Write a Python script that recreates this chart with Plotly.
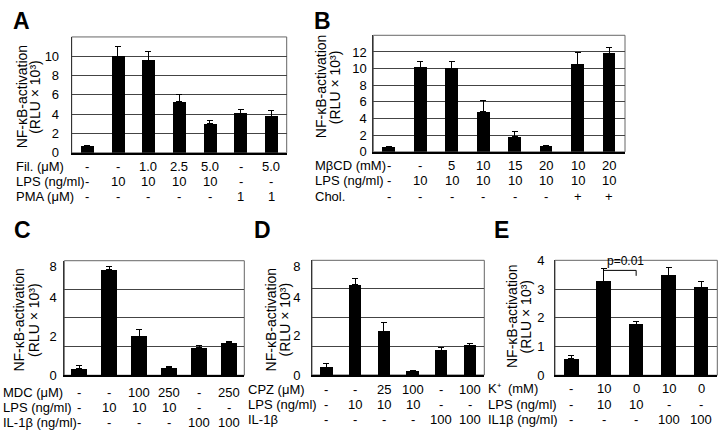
import numpy as np
import plotly.graph_objects as go

W, H = 720, 438
FONT = "Liberation Sans, Arial, sans-serif"

# ---------------- data ----------------
A_vals = [0.7, 10.0, 9.6, 5.3, 3.0, 4.1, 3.8]
A_err = [0.1, 1.0, 0.9, 0.75, 0.35, 0.35, 0.55]
A_rows = ["Fil. (\u03bcM)", "LPS (ng/ml)", "PMA (\u03bcM)"]
A_fil = ["-", "-", "1.0", "2.5", "5.0", "-", "5.0"]
A_lps = ["-", "10", "10", "10", "10", "-", "-"]
A_pma = ["-", "-", "-", "-", "-", "1", "1"]
A_ticks = [0, 2, 4, 6, 8, 10]

B_vals = [0.6, 10.15, 10.0, 4.8, 1.8, 0.7, 10.5, 11.8]
B_err = [0.1, 0.75, 0.8, 1.35, 0.65, 0.1, 1.45, 0.7]
B_rows = ["M\u03b2CD (mM)", "LPS (ng/ml)", "Chol."]
B_mbcd = ["-", "-", "5", "10", "15", "20", "10", "20"]
B_lps = ["-", "10", "10", "10", "10", "10", "10", "10"]
B_chol = ["-", "-", "-", "-", "-", "-", "+", "+"]
B_ticks = [0, 2, 4, 6, 8, 10, 12]

C_vals = [0.36, 7.65, 2.0, 0.40, 1.41, 1.65]
C_err = [0.16, 0.4, 0.34, 0.03, 0.1, 0.06]
C_rows = ["MDC (\u03bcM)", "LPS (ng/ml)", "IL-1\u03b2 (ng/ml)"]
C_mdc = ["-", "-", "100", "250", "-", "250"]
C_lps = ["-", "10", "10", "10", "-", "-"]
C_il = ["-", "-", "-", "-", "100", "100"]

D_vals = [0.38, 5.6, 2.22, 0.21, 1.25, 1.49]
D_err = [0.21, 0.84, 0.47, 0.0, 0.14, 0.14]
D_rows = ["CPZ (\u03bcM)", "LPS (ng/ml)", "IL-1\u03b2"]
D_cpz = ["-", "-", "25", "100", "-", "100"]
D_lps = ["-", "10", "10", "10", "-", "-"]
D_il = ["-", "-", "-", "-", "100", "100"]

# C and D share a non-linear value axis (labels 0, 2, 4, 8)
CD_ticks = [0, 2, 4, 8]
CD_scale_vals = [0, 2, 4, 8, 12]
CD_scale_pos = [0, 1.365, 2.71, 3.79, 4.87]

E_vals = [0.57, 3.28, 1.76, 3.48, 3.05]
E_err = [0.11, 0.44, 0.1, 0.28, 0.21]
E_rows = ["K\u207a  (mM)", "LPS (ng/ml)", "IL1\u03b2 (ng/ml)"]
E_k = ["-", "10", "0", "10", "0"]
E_lps = ["-", "10", "10", "-", "-"]
E_il = ["-", "-", "-", "100", "100"]
E_ticks = [0, 1, 2, 3, 4]
E_p_text = "p=0.01"
E_p_pair = [1, 2]
E_p_level = 3.65
E_p_drop = 3.46

Y_TITLE1 = "NF-\u03baB-activation"
Y_TITLE2 = "(RLU \u00d7 10\u00b3)"


def cd_map(v):
    return np.interp(np.asarray(v, float), CD_scale_vals, CD_scale_pos)


def px(x):
    return x / W


def py(y):
    return 1 - y / H


fig = go.Figure()
annotations = []
shapes = []

panels = [
    dict(key="", vals=A_vals, err=A_err, dom_x=(71.7, 286.7), dom_y=(31, 151), yr=[0, 12],
         ticks=A_ticks, width=0.42, rows=A_rows, cols=[A_fil, A_lps, A_pma],
         row_y=[165, 180.7, 196.7], row_x=14, letter="A", letter_xy=(11, 14.5),
         title_x=(21.5, 35), title_y=93, standoff=9, cd=False),
    dict(key="2", vals=B_vals, err=B_err, dom_x=(373.3, 625), dom_y=(29.3, 150), yr=[0, 14],
         ticks=B_ticks, width=0.41, rows=B_rows, cols=[B_mbcd, B_lps, B_chol],
         row_y=[164, 180, 196], row_x=313, letter="B", letter_xy=(312, 14.5),
         title_x=(321, 335), title_y=83, standoff=3, cd=False),
    dict(key="3", vals=C_vals, err=C_err, dom_x=(64.3, 244.3), dom_y=(262.7, 381.3), yr=[0, 4],
         ticks=CD_ticks, width=0.56, rows=C_rows, cols=[C_mdc, C_lps, C_il],
         row_y=[399, 414.3, 430], row_x=1, letter="C", letter_xy=(12, 230.5),
         title_x=(18.7, 34), title_y=324, standoff=4, cd=True),
    dict(key="4", vals=D_vals, err=D_err, dom_x=(312, 484.3), dom_y=(262.3, 381), yr=[0, 4],
         ticks=CD_ticks, width=0.43, rows=D_rows, cols=[D_cpz, D_lps, D_il],
         row_y=[396, 411.5, 427], row_x=246, letter="D", letter_xy=(252, 230.5),
         title_x=(270.5, 284.5), title_y=324, standoff=8, cd=True),
    dict(key="5", vals=E_vals, err=E_err, dom_x=(555, 717.3), dom_y=(262.3, 381.3), yr=[0, 4],
         ticks=E_ticks, width=0.45, rows=E_rows, cols=[E_k, E_lps, E_il],
         row_y=[395, 411.7, 427.3], row_x=486, letter="E", letter_xy=(492, 230.5),
         title_x=(512, 526.5), title_y=321, standoff=7, cd=False),
]

layout_axes = {}
for p in panels:
    k = p["key"]
    n = len(p["vals"])
    xs = list(range(n))
    vals = np.array(p["vals"], float)
    errs = np.array(p["err"], float)
    if p["cd"]:
        ybar = cd_map(vals)
        yerr = cd_map(vals + errs) - ybar
        tickvals = list(cd_map(p["ticks"]))
    else:
        ybar = vals
        yerr = errs
        tickvals = p["ticks"]
    fig.add_trace(go.Bar(
        x=xs, y=ybar, width=p["width"], marker=dict(color="black", line=dict(width=0)),
        error_y=dict(type="data", symmetric=False, array=list(yerr), arrayminus=[0] * n,
                     color="black", thickness=1, width=3),
        xaxis="x" + k, yaxis="y" + k, showlegend=False, hoverinfo="skip"))

    xa = dict(domain=[px(p["dom_x"][0]), px(p["dom_x"][1])], range=[-0.5, n - 0.5],
              showticklabels=False, showgrid=False, zeroline=False, ticks="",
              showline=True, linecolor="black", linewidth=2, anchor="y" + k,
              fixedrange=True)
    ya = dict(domain=[py(p["dom_y"][1]), py(p["dom_y"][0])], range=p["yr"],
              tickmode="array", tickvals=tickvals, ticktext=[str(t) for t in p["ticks"]],
              ticks="", ticklabelstandoff=p["standoff"],
              tickfont=dict(size=13, color="black", family=FONT),
              zeroline=False, showline=True, linecolor="#333", linewidth=1,
              anchor="x" + k, fixedrange=True)
    if p["cd"]:
        ya["showgrid"] = False
        ya["minor"] = dict(tickmode="array", tickvals=[1, 2, 3], showgrid=True,
                           gridcolor="#444", gridwidth=1, ticks="")
    else:
        ya["showgrid"] = True
        ya["gridcolor"] = "#444"
        ya["gridwidth"] = 1
    layout_axes["xaxis" + k] = xa
    layout_axes["yaxis" + k] = ya

    # frame (top/right)
    shapes.append(dict(type="rect", xref="x" + k + " domain", yref="y" + k + " domain",
                       x0=0, x1=1, y0=0, y1=1, line=dict(color="#666", width=1),
                       layer="below"))

    # condition table
    for r, (lab, col) in enumerate(zip(p["rows"], p["cols"])):
        yy = py(p["row_y"][r])
        annotations.append(dict(text=lab, x=px(p["row_x"]), y=yy, xref="paper", yref="paper",
                                xanchor="left", yanchor="middle", showarrow=False,
                                font=dict(size=13, color="black", family=FONT)))
        for i, t in enumerate(col):
            annotations.append(dict(text=t, x=i, y=yy, xref="x" + k, yref="paper",
                                    xanchor="center", yanchor="middle", showarrow=False,
                                    font=dict(size=13, color="black", family=FONT)))

    # panel letter
    annotations.append(dict(text="<b>" + p["letter"] + "</b>", x=px(p["letter_xy"][0]),
                            y=py(p["letter_xy"][1]), xref="paper", yref="paper",
                            xanchor="left", yanchor="middle", showarrow=False,
                            font=dict(size=23, color="black", family=FONT)))
    # y titles
    for t, xx in zip([Y_TITLE1, Y_TITLE2], p["title_x"]):
        annotations.append(dict(text=t, x=px(xx), y=py(p["title_y"]), xref="paper",
                                yref="paper", xanchor="center", yanchor="middle",
                                textangle=-90, showarrow=False,
                                font=dict(size=14, color="black", family=FONT)))

# significance bracket in E
fig.add_trace(go.Scatter(
    x=[E_p_pair[0], E_p_pair[1], E_p_pair[1]], y=[E_p_level, E_p_level, E_p_drop],
    mode="lines", line=dict(color="black", width=1), xaxis="x5", yaxis="y5",
    showlegend=False, hoverinfo="skip"))
annotations.append(dict(text=E_p_text, x=E_p_pair[0] + 0.05, y=E_p_level, xref="x5", yref="y5",
                        xanchor="left", yanchor="bottom", showarrow=False, yshift=0,
                        font=dict(size=12, color="black", family=FONT)))

fig.update_layout(
    width=W, height=H, margin=dict(l=0, r=0, t=0, b=0),
    paper_bgcolor="white", plot_bgcolor="white",
    font=dict(family=FONT, color="black"),
    annotations=annotations, shapes=shapes, showlegend=False, bargap=0,
    **layout_axes)

fig.write_html("out.html", config={"displayModeBar": False},
               post_script="document.body.style.margin='0';document.body.style.overflow='hidden';")
